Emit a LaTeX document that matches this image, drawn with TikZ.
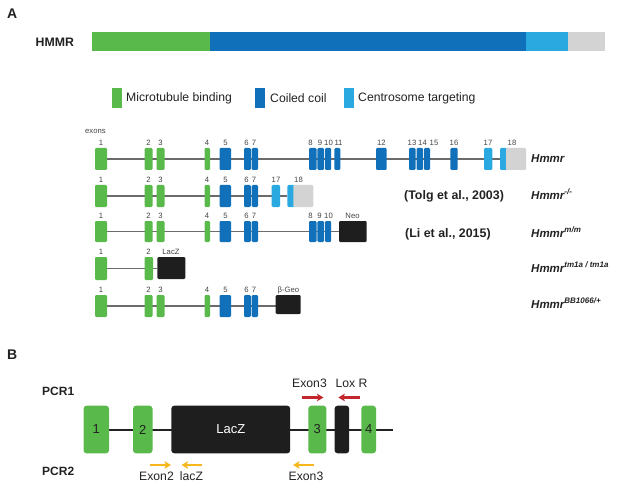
\documentclass[tikz,border=0pt]{standalone}
\usepackage{fontspec}
\setmainfont{Liberation Sans}
\usetikzlibrary{arrows.meta}
\pgfdeclarelayer{bg}
\pgfsetlayers{bg,main}
\definecolor{mgreen}{HTML}{5AB94B}
\definecolor{dblue}{HTML}{1170BA}
\definecolor{lblue}{HTML}{2AA8E0}
\definecolor{lgrey}{HTML}{D3D3D3}
\definecolor{boxblack}{HTML}{1E1E1E}
\definecolor{arrred}{HTML}{C1272D}
\definecolor{arryel}{HTML}{F6B71D}
\definecolor{txt}{HTML}{222222}
\newcommand{\exon}[6]{\node[exonbox,fill=#6,minimum width={(#3-#2)*1pt},minimum height={(#5-#4)*1pt}] (#1) at ({(#2+#3)/2},{(#4+#5)/2}) {};}
\newcommand{\exlab}[4]{\node[numlab] (#1) at ({#2},{#3-2.5}) {#4};}
\newcommand{\firstseven}[3]{%
 \exon{#1e1}{95}{107}{#2}{#3}{mgreen}
 \exon{#1e2}{144.5}{152.5}{#2}{#3}{mgreen}
 \exon{#1e3}{156.5}{164.5}{#2}{#3}{mgreen}
 \exon{#1e4}{204.5}{210}{#2}{#3}{mgreen}
 \exon{#1e5}{219.5}{231}{#2}{#3}{dblue}
 \exon{#1e6}{244}{250.8}{#2}{#3}{dblue}
 \exon{#1e7}{251.6}{258}{#2}{#3}{dblue}
 \exlab{#1l1}{101}{#2}{1}
 \exlab{#1l2}{148.5}{#2}{2}
 \exlab{#1l3}{160.5}{#2}{3}
 \exlab{#1l4}{207}{#2}{4}
 \exlab{#1l5}{225.5}{#2}{5}
 \exlab{#1l6}{246.5}{#2}{6}
 \exlab{#1l7}{254}{#2}{7}}
\newcommand{\bexon}[6]{\node[bbox,fill=#4,text=#6,minimum width={(#3-#2)*1pt}] (#1) at ({(#2+#3)/2},429.5) {#5};}
\newcommand{\supr}[1]{\raisebox{5pt}{\fontsize{8}{8}\selectfont #1}}
\tikzset{
 exonbox/.style={rectangle,rounded corners=1.2pt,draw=none,inner sep=0pt,outer sep=0pt},
 numlab/.style={anchor=base,inner sep=0pt,text=txt!85,font=\fontsize{7.7}{8}\selectfont},
 backbone/.style={draw=black!58,line width=1.4pt},
 gname/.style={anchor=base west,inner sep=0pt,text=txt,font=\fontsize{11.5}{12}\selectfont\bfseries\itshape},
 cite/.style={anchor=base west,inner sep=0pt,text=txt,font=\fontsize{12.4}{13}\selectfont\bfseries},
 legtext/.style={anchor=west,inner sep=0pt,text=txt,font=\fontsize{12.2}{13}\selectfont},
 legsq/.style={rectangle,draw=none,inner sep=0pt,minimum width=10pt,minimum height=19.5pt,anchor=west},
 panel/.style={anchor=west,inner sep=0pt,text=txt,font=\fontsize{14}{15}\selectfont\bfseries},
 pcr/.style={anchor=west,inner sep=0pt,text=txt,font=\fontsize{12}{13}\selectfont\bfseries},
 bbox/.style={rectangle,rounded corners=3pt,draw=none,inner sep=0pt,outer sep=0pt,minimum height=47.6pt,font=\fontsize{13}{14}\selectfont},
 blab/.style={inner sep=0pt,text=txt,font=\fontsize{12.2}{13}\selectfont},
 bline/.style={draw=txt,line width=2pt},
 redarr/.style={draw=arrred,line width=2.2pt,-{Stealth[length=6.5pt,width=7.5pt,inset=1.5pt]}},
 yelarr/.style={draw=arryel,line width=2.2pt,-{Stealth[length=6.5pt,width=7.5pt,inset=1.5pt]}},
}
\begin{document}
\begin{tikzpicture}[x=1pt,y=-1pt]
\useasboundingbox (0,0) rectangle (617,486);
% ---------- Panel A ----------
\node[panel] (labA) at (7,14) {A};
\node[anchor=west,inner sep=0pt,text=txt,font=\fontsize{12.3}{13}\selectfont\bfseries] (hmmrlab) at (35.5,42) {HMMR};
\node[exonbox,rounded corners=0pt,fill=mgreen,minimum width=118.3pt,minimum height=18.7pt,anchor=west] (pmt) at (91.7,41.65) {};
\node[exonbox,rounded corners=0pt,fill=dblue,minimum width=316pt,minimum height=18.7pt,anchor=west] (pcc) at (pmt.east) {};
\node[exonbox,rounded corners=0pt,fill=lblue,minimum width=42pt,minimum height=18.7pt,anchor=west] (pct) at (pcc.east) {};
\node[exonbox,rounded corners=0pt,fill=lgrey,minimum width=37pt,minimum height=18.7pt,anchor=west] (pend) at (pct.east) {};
% legend
\node[legsq,fill=mgreen] (lg1) at (111.7,98) {};
\node[legtext] (lt1) at (126,98) {Microtubule binding};
\node[legsq,fill=dblue] (lg2) at (255,98) {};
\node[legtext] (lt2) at (270,98) {Coiled coil};
\node[legsq,fill=lblue] (lg3) at (343.5,98) {};
\node[legtext] (lt3) at (358,98) {Centrosome targeting};
\node[anchor=west,inner sep=0pt,text=txt!85,font=\fontsize{7.7}{8}\selectfont] (exlabel) at (85,131) {exons};
% row 1
\firstseven{a}{148}{170}
\exon{ae8}{309}{316.5}{148}{170}{dblue}
\exon{ae9}{317.4}{324.1}{148}{170}{dblue}
\exon{ae10}{325}{331.2}{148}{170}{dblue}
\exon{ae11}{334.3}{340.3}{148}{170}{dblue}
\exon{ae12}{376}{386.7}{148}{170}{dblue}
\exon{ae13}{409}{415.5}{148}{170}{dblue}
\exon{ae14}{416.5}{423}{148}{170}{dblue}
\exon{ae15}{424}{430}{148}{170}{dblue}
\exon{ae16}{450.3}{457.7}{148}{170}{dblue}
\exon{ae17}{484}{492.3}{148}{170}{lblue}
\exon{ae18a}{500}{507}{148}{170}{lblue}
\exon{ae18b}{506}{526}{148}{170}{lgrey}
\exlab{al8}{310.5}{148}{8}
\exlab{al9}{320}{148}{9}
\exlab{al10}{328.5}{148}{10}
\exlab{al11}{338.5}{148}{11}
\exlab{al12}{381.3}{148}{12}
\exlab{al13}{412}{148}{13}
\exlab{al14}{422.5}{148}{14}
\exlab{al15}{434}{148}{15}
\exlab{al16}{454}{148}{16}
\exlab{al17}{488}{148}{17}
\exlab{al18}{512}{148}{18}
\node[gname] (g1) at (531,162.5) {Hmmr};
% row 2
\firstseven{b}{185}{207}
\exon{be17}{271.7}{280}{185}{207}{lblue}
\exon{be18a}{287.3}{294.3}{185}{207}{lblue}
\exon{be18b}{293.3}{313.3}{185}{207}{lgrey}
\exlab{bl17}{276}{185}{17}
\exlab{bl18}{298.5}{185}{18}
\node[cite] (c2) at (404,199.5) {(Tolg et al., 2003)};
\node[gname] (g2) at (531,199.5) {Hmmr\supr{-/-}};
% row 3
\firstseven{c}{221}{242}
\exon{ce8}{309}{316.5}{221}{242}{dblue}
\exon{ce9}{317.4}{324.1}{221}{242}{dblue}
\exon{ce10}{325}{331.2}{221}{242}{dblue}
\exon{cneo}{339}{366.7}{221}{242}{boxblack}
\exlab{cl8}{310.5}{221}{8}
\exlab{cl9}{319.5}{221}{9}
\exlab{cl10}{328.5}{221}{10}
\exlab{clneo}{352.5}{221}{Neo}
\node[cite] (c3) at (405,237) {(Li et al., 2015)};
\node[gname] (g3) at (531,237) {Hmmr\supr{m/m}};
% row 4
\exon{de1}{95}{107}{257}{280}{mgreen}
\exon{de2}{144.5}{153}{257}{280}{mgreen}
\exon{dlacz}{157.3}{185.3}{257}{279}{boxblack}
\exlab{dl1}{101}{257}{1}
\exlab{dl2}{148.5}{257}{2}
\exlab{dllacz}{171}{257}{LacZ}
\node[gname] (g4) at (531,272.5) {Hmmr\supr{tm1a / tm1a}};
% row 5
\firstseven{e}{295}{317}
\exon{ebgeo}{275.7}{300.7}{295}{314}{boxblack}
\exlab{elbgeo}{288.5}{295}{β-Geo}
\node[gname] (g5) at (531,308.5) {Hmmr\supr{BB1066/+}};
\begin{pgfonlayer}{bg}
\draw[backbone] (ae1.east) -- (ae1.east -| ae18a.west);
\draw[backbone] (be1.east) -- (be1.east -| be18a.west);
\draw[backbone] (ce1.east) -- (ce1.east -| cneo.west);
\draw[backbone] (de1.east) -- (de1.east -| dlacz.west);
\draw[backbone] (ee1.east) -- (ee1.east -| ebgeo.west);
\end{pgfonlayer}
% ---------- Panel B ----------
\node[panel] (labB) at (7,355) {B};
\node[pcr] (pcr1) at (42,391.7) {PCR1};
\node[pcr] (pcr2) at (42,471) {PCR2};
\bexon{b1}{83.5}{109}{mgreen}{1}{txt}
\bexon{b2}{133}{152.5}{mgreen}{2}{txt}
\bexon{blacz}{171.3}{290.2}{boxblack}{LacZ}{white}
\bexon{b3}{308.3}{326.4}{mgreen}{3}{txt}
\bexon{blox}{334.6}{349.2}{boxblack}{}{white}
\bexon{b4}{361.4}{376}{mgreen}{4}{txt}
\coordinate (bend) at (393,429.5);
\begin{pgfonlayer}{bg}
\draw[bline] (b1.east) -- (bend);
\end{pgfonlayer}
\node[blab] (t3) at (309.5,383.3) {Exon3};
\node[blab] (tlox) at (351.6,383.3) {Lox R};
\coordinate (r1a) at (301.7,397.5);
\coordinate (r1b) at (323.5,397.5);
\coordinate (r2a) at (360,397.5);
\coordinate (r2b) at (338.3,397.5);
\draw[redarr] (r1a) -- (r1b);
\draw[redarr] (r2a) -- (r2b);
\coordinate (y1a) at (150,465);
\coordinate (y1b) at (171,465);
\coordinate (y2a) at (202,465);
\coordinate (y2b) at (181.5,465);
\coordinate (y3a) at (313.5,465);
\coordinate (y3b) at (293,465);
\draw[yelarr] (y1a) -- (y1b);
\draw[yelarr] (y2a) -- (y2b);
\draw[yelarr] (y3a) -- (y3b);
\node[blab] (bt1) at (156.5,476.5) {Exon2};
\node[blab] (bt2) at (191.5,476.5) {lacZ};
\node[blab] (bt3) at (306,476.5) {Exon3};
\end{tikzpicture}
\end{document}
